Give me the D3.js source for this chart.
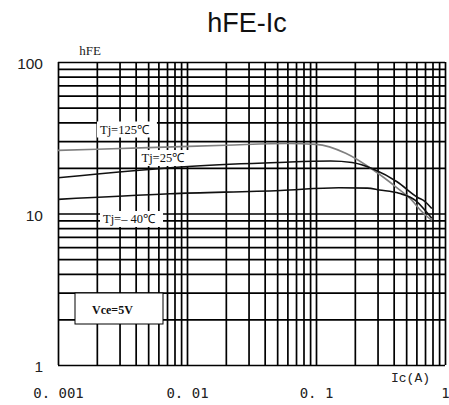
<html>
<head>
    <title>hFE-Ic</title>
    <script src="https://d3js.org/d3.v7.min.js"></script>
    <style>
        body { margin: 0; background: #fff; }
    </style>
</head>
<body>
<script>
    // values
    const xMajor = [0.001, 0.01, 0.1, 1];
    const xTickLabels = ["0. 001", "0. 01", "0. 1", "1"];
    const yMajor = [1, 10, 100];
    const yTickLabels = ["1", "10", "100"];

    const icTj125  = [0.001, 0.005, 0.02, 0.06, 0.1, 0.17, 0.28, 0.42, 0.55, 0.66, 0.79];
    const hfeTj125 = [26.1, 27.2, 28.2, 29.0, 28.6, 25.0, 19.3, 14.9, 12.3, 10.3, 9.0];

    const icTj25  = [0.001, 0.011, 0.05, 0.13, 0.19, 0.28, 0.425, 0.61, 0.70, 0.79];
    const hfeTj25 = [17.2, 20.5, 21.7, 22.2, 21.7, 19.6, 16.2, 12.8, 12.0, 10.8];

    const icTjm40  = [0.001, 0.0074, 0.053, 0.15, 0.25, 0.31, 0.44, 0.59, 0.70, 0.79];
    const hfeTjm40 = [12.4, 13.5, 14.2, 14.8, 14.7, 14.3, 13.6, 12.2, 10.5, 9.3];

    const seriesNames  = ["Tj=125℃", "Tj=25℃", "Tj=– 40℃"];
    const seriesColors = ["#808080", "#111", "#111"];

    var svg = d3.select("body").append("svg").attr("width", 449).attr("height", 405);
    let margin = {"top": 62, "left": 58};
    let plotW = 387, plotH = 303;

    let chart = svg.append("g").attr("transform", "translate(" + margin.left + "," + margin.top + ")");

    let xScale = d3.scaleLog().domain([0.001, 1]).range([0, plotW]);
    let yScale = d3.scaleLog().domain([1, 100]).range([plotH, 0]);

    // all the 1..9 grid values per decade
    let xGrid = [], yGrid = [];
    [0.001, 0.01, 0.1].forEach(d => { for (let k = 1; k < 10; k++) xGrid.push(d * k); });
    xGrid.push(1);
    [1, 10].forEach(d => { for (let k = 1; k < 10; k++) yGrid.push(d * k); });
    yGrid.push(100);

    let gx = chart.append("g").attr("class", "grid")
        .attr("transform", "translate(0," + plotH + ")")
        .call(d3.axisBottom(xScale).tickValues(xGrid).tickSize(-plotH).tickFormat(""));
    let gy = chart.append("g").attr("class", "grid")
        .call(d3.axisLeft(yScale).tickValues(yGrid).tickSize(-plotW).tickFormat(""));
    chart.selectAll(".grid .domain").remove();
    chart.selectAll(".grid line").attr("stroke", "#000").attr("stroke-width", 1.7);

    // tick labels
    let xl = chart.append("g")
        .attr("transform", "translate(0," + plotH + ")")
        .call(d3.axisBottom(xScale).tickValues(xMajor).tickSize(0).tickPadding(23)
            .tickFormat((d, i) => xTickLabels[i]));
    xl.select(".domain").remove();
    xl.selectAll("text").attr("font-family", "DejaVu Sans Mono, monospace")
        .attr("font-size", 14).attr("fill", "#222");

    let yl = chart.append("g")
        .call(d3.axisLeft(yScale).tickValues(yMajor).tickSize(0).tickPadding(15)
            .tickFormat((d, i) => yTickLabels[i]));
    yl.select(".domain").remove();
    yl.selectAll("text").attr("font-family", "Liberation Sans, Arial, sans-serif")
        .attr("font-size", 15.5).attr("fill", "#222").attr("dy", "0.45em");

    // label boxes (white background over the grid)
    let labelPos = [[100, 133.5], [141.5, 162], [103, 223]];
    let labels = chart.append("g").attr("transform", "translate(" + (-margin.left) + "," + (-margin.top) + ")");
    seriesNames.forEach((name, i) => {
        let g = labels.append("g");
        let t = g.append("text")
            .attr("x", labelPos[i][0]).attr("y", labelPos[i][1])
            .attr("font-family", "Liberation Serif, Times New Roman, serif")
            .attr("font-size", 12.5).attr("fill", "#111")
            .text(name);
        let b = t.node().getBBox();
        g.insert("rect", "text")
            .attr("x", b.x - 3).attr("y", b.y - 1)
            .attr("width", b.width + 10).attr("height", b.height + 2)
            .attr("fill", "#fff");
    });

    labels.append("rect").attr("x", 75).attr("y", 293).attr("width", 88).attr("height", 31)
        .attr("fill", "#fff").attr("stroke", "#000").attr("stroke-width", 1);
    labels.append("text").attr("x", 92).attr("y", 314)
        .attr("font-family", "Liberation Serif, Times New Roman, serif")
        .attr("font-size", 12).attr("font-weight", "bold").attr("fill", "#111")
        .text("Vce=5V");

    // curves
    let line = d3.line()
        .x(d => xScale(d[0]))
        .y(d => yScale(d[1]))
        .curve(d3.curveMonotoneX);
    let curves = [
        d3.zip(icTj125, hfeTj125),
        d3.zip(icTj25, hfeTj25),
        d3.zip(icTjm40, hfeTjm40)
    ];
    curves.forEach((c, i) => {
        chart.append("path")
            .datum(c)
            .attr("fill", "none")
            .attr("stroke", seriesColors[i])
            .attr("stroke-width", 1.6)
            .attr("d", line);
    });

    // title and axis names
    svg.append("text").attr("x", 247).attr("y", 32).attr("text-anchor", "middle")
        .attr("font-family", "Liberation Sans, Arial, sans-serif").attr("font-size", 27)
        .attr("fill", "#111").text("hFE-Ic");
    svg.append("text").attr("x", 90).attr("y", 55).attr("text-anchor", "middle")
        .attr("font-family", "Liberation Serif, Times New Roman, serif").attr("font-size", 13)
        .attr("fill", "#222").text("hFE");
    svg.append("text").attr("x", 391).attr("y", 382)
        .attr("font-family", "Liberation Mono, monospace").attr("font-size", 13)
        .attr("fill", "#222").text("Ic(A)");
</script>
</body>
</html>
